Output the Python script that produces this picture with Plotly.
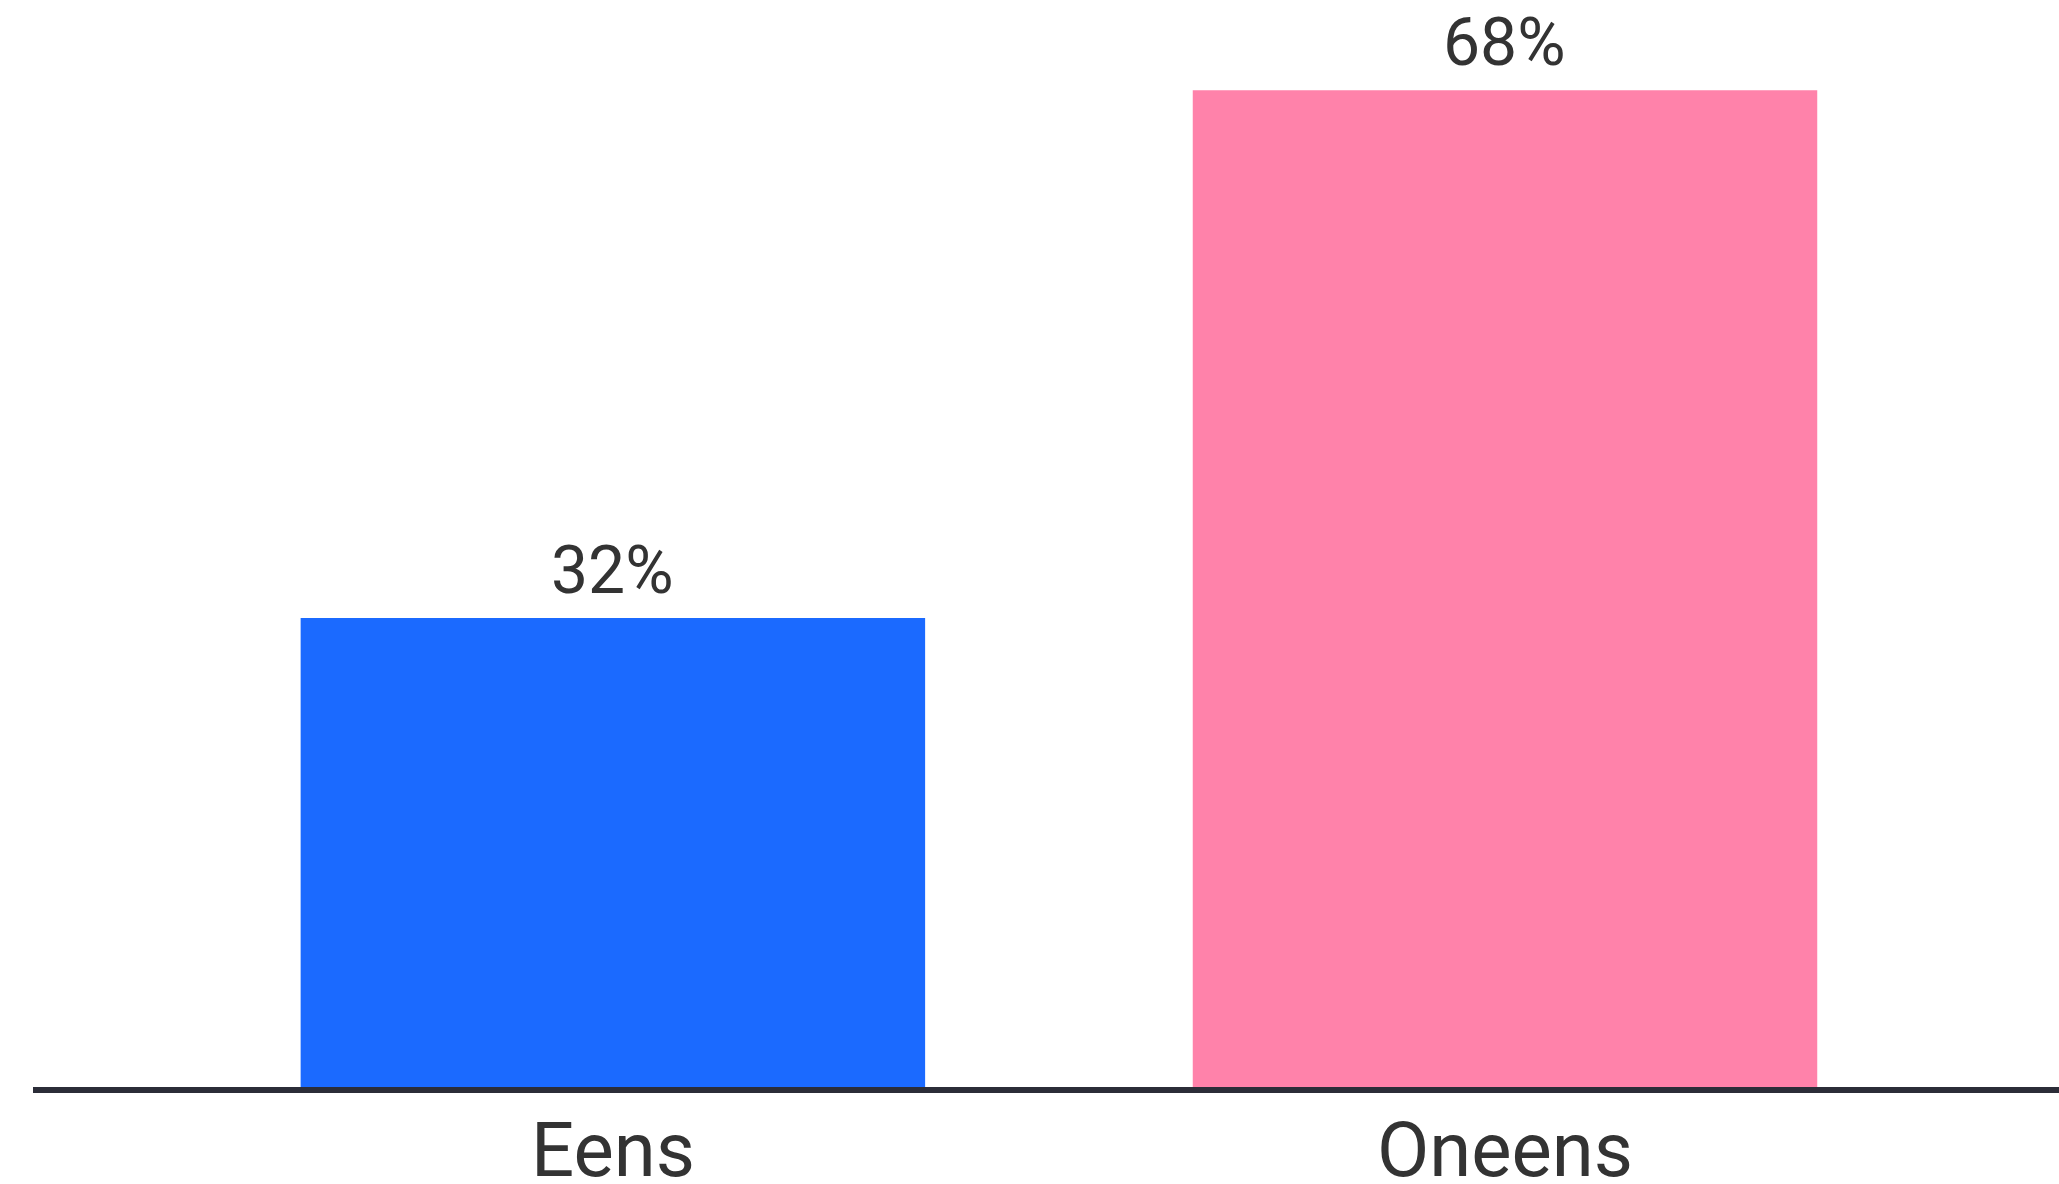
import plotly.graph_objects as go

categories = ["Eens", "Oneens"]
values = [32, 68]
labels = ["32%", "68%"]
colors = ["#1b6aff", "#ff82aa"]

fig = go.Figure()
fig.add_trace(go.Bar(
    x=categories, y=values, marker=dict(color=colors, line=dict(width=0)),
    width=0.7, hoverinfo="skip",
))
# value labels above bars
for c, v, t in zip(categories, values, labels):
    fig.add_annotation(x=c, y=v, text=t, showarrow=False, yanchor="bottom",
                       yshift=7, font=dict(family="Roboto", size=66, color="#333333"))
# category labels below the axis line
for c in categories:
    fig.add_annotation(x=c, y=0, text=c, showarrow=False, yanchor="top",
                       yshift=-16, font=dict(family="Roboto", size=76, color="#333333"))

fig.update_layout(
    width=2059, height=1184,
    margin=dict(l=33, r=0, t=0, b=97, autoexpand=False),
    paper_bgcolor="white", plot_bgcolor="white",
    showlegend=False,
    font=dict(family="Roboto", color="#333333"),
    xaxis=dict(
        type="category", range=[-0.65, 1.621], automargin=False,
        showline=True, linecolor="#2b2d38", linewidth=6,
        showgrid=False, zeroline=False, ticks="", showticklabels=False,
    ),
    yaxis=dict(range=[0, 74.15], visible=False, showgrid=False, zeroline=False,
               automargin=False),
)

fig.write_html("out.html", config={"displayModeBar": False},
               post_script="document.body.style.margin='0';document.body.style.overflow='hidden';")
